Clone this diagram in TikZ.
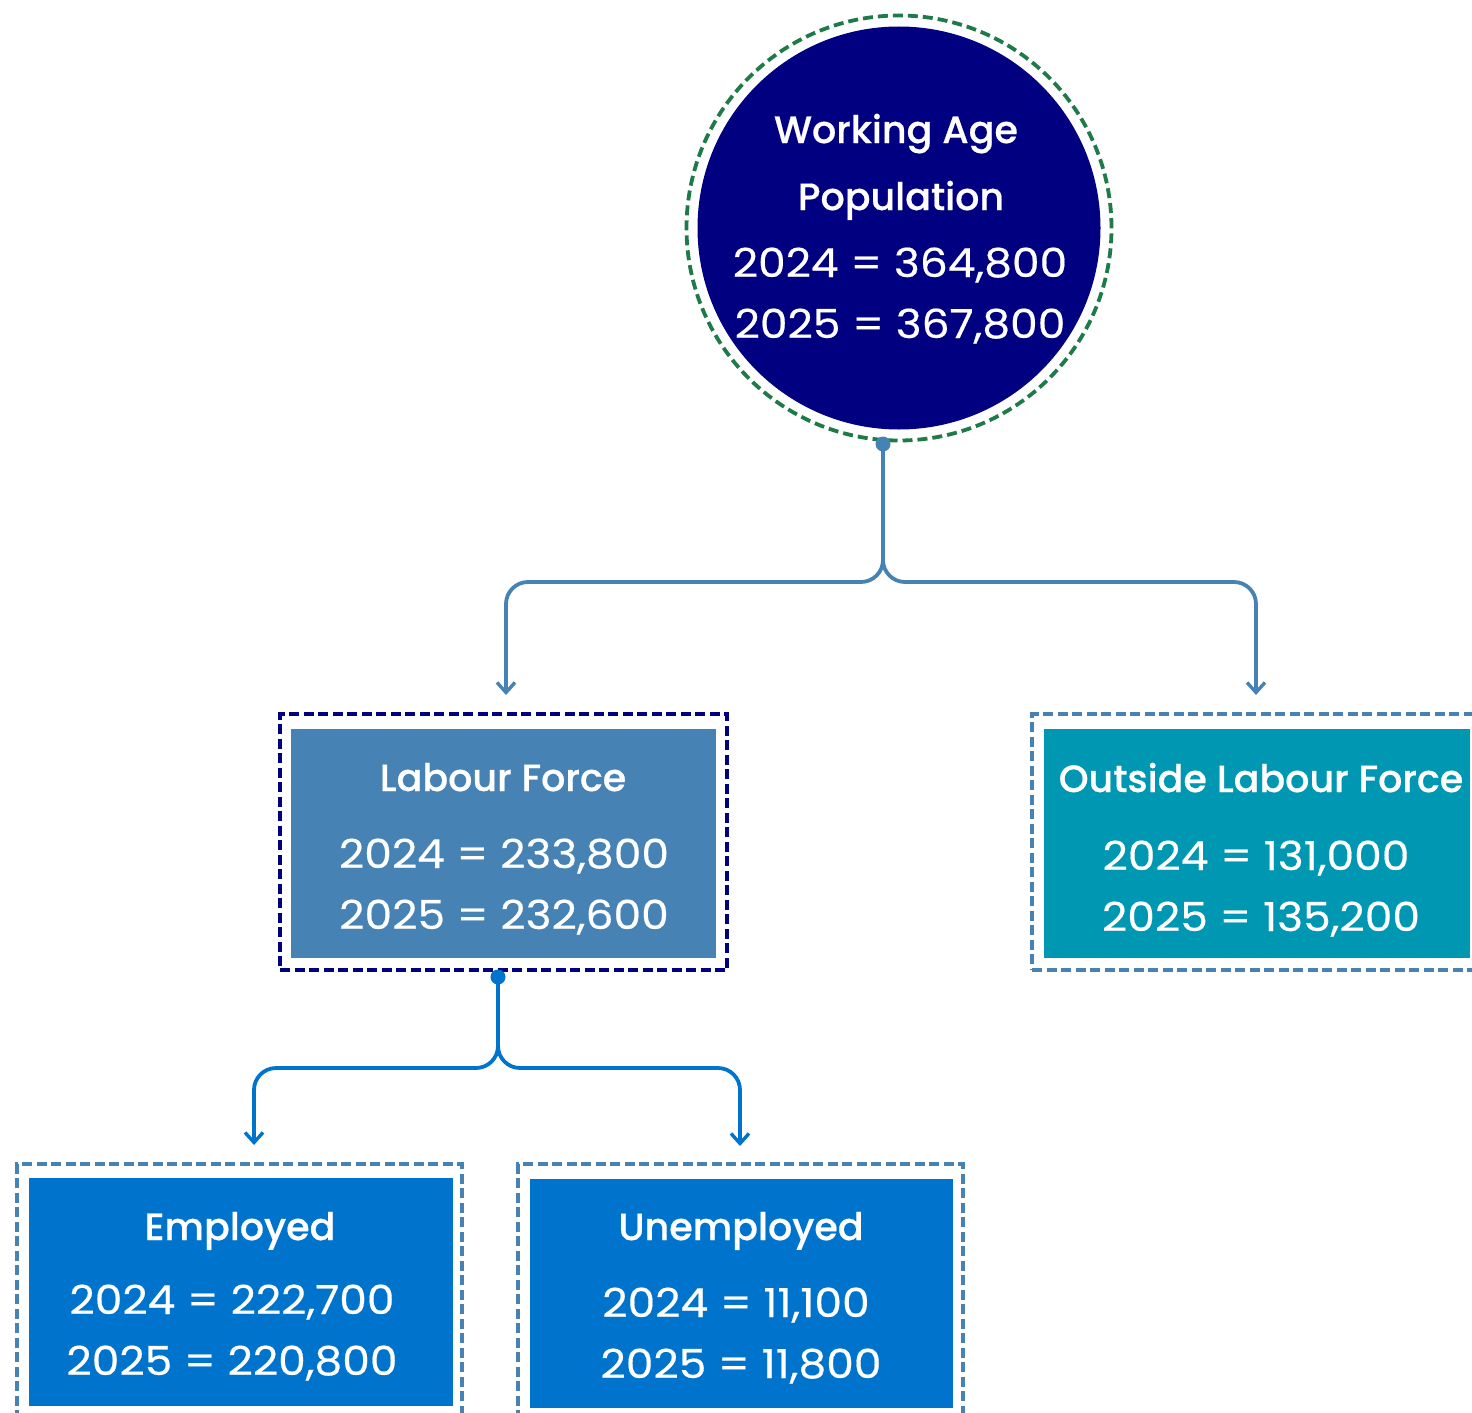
\documentclass[tikz,border=0pt]{standalone}
\usepackage{fontspec}
\setmainfont{Poppins}
\newfontfamily\titlefont{Poppins Medium}[FakeBold=0.5]
\newfontfamily\numfont[FakeBold=0.4,FakeStretch=1.1]{Poppins}
\usetikzlibrary{arrows.meta}
\definecolor{navyc}{HTML}{000080}
\definecolor{greenc}{HTML}{1F7A4A}
\definecolor{steelc}{HTML}{4682B4}
\definecolor{tealc}{HTML}{0097B2}
\definecolor{bluec}{HTML}{0074CC}
\tikzset{
  outerbox/.style={rectangle, draw, line width=4.2pt, dash pattern=on 10pt off 4.5pt, inner sep=0pt},
  innerbox/.style={rectangle, inner sep=0pt},
  ttl/.style={anchor=base, text=white, font=\titlefont\fontsize{38}{46}\selectfont, inner sep=0pt},
  num/.style={anchor=base, text=white, font=\numfont\fontsize{40}{48}\selectfont, inner sep=0pt},
  conn/.style={line width=3.8pt, rounded corners=22pt, -{Straight Barb[length=10pt,width=18pt,line width=3.4pt]}},
  dot/.style={circle, inner sep=0pt, minimum size=15pt}
}
\begin{document}
\begin{tikzpicture}[x=1pt,y=-1pt]
\useasboundingbox (0,0) rectangle (1472,1413);
\begin{scope}
\clip (0,0) rectangle (1472,1413);
% top circle
\node[circle, draw=greenc, line width=3.8pt, dash pattern=on 10pt off 5pt, minimum size=425pt, inner sep=0pt] (wapring) at (899,228) {};
\node[circle, fill=navyc, minimum size=403pt, inner sep=0pt] (wap) at (899,228) {};
\node[ttl] (t1) at (896,143) {Working Age};
\node[ttl] (t2) at (901,210) {Population};
\node[num] (t3) at (900,277) {2024 = 364,800};
\node[num] (t4) at (900,338) {2025 = 367,800};
% labour force
\node[outerbox, draw=navyc, minimum width=447pt, minimum height=256pt] (lfo) at (503.5,842) {};
\node[innerbox, fill=steelc, minimum width=425pt, minimum height=229pt] (lf) at (503.5,843.5) {};
\node[ttl] (l1) at (503,791) {Labour Force};
\node[num] (l2) at (504,868) {2024 = 233,800};
\node[num] (l3) at (504,929) {2025 = 232,600};
% outside labour force
\node[outerbox, draw=steelc, minimum width=448pt, minimum height=256pt] (olfo) at (1256,842) {};
\node[innerbox, fill=tealc, minimum width=426pt, minimum height=229pt] (olf) at (1257,843.5) {};
\node[ttl] (o1) at (1261,792) {Outside Labour Force};
\node[num] (o2) at (1256,870) {2024 = 131,000};
\node[num] (o3) at (1261,931) {2025 = 135,200};
% employed
\node[outerbox, draw=steelc, minimum width=445pt, minimum height=256pt] (empo) at (239.5,1292) {};
\node[innerbox, fill=bluec, minimum width=424pt, minimum height=228pt] (emp) at (241,1292) {};
\node[ttl] (e1) at (240,1240) {Employed};
\node[num] (e2) at (232,1314) {2024 = 222,700};
\node[num] (e3) at (232,1375) {2025 = 220,800};
% unemployed
\node[outerbox, draw=steelc, minimum width=445pt, minimum height=256pt] (unemo) at (740.5,1292) {};
\node[innerbox, fill=bluec, minimum width=423pt, minimum height=229pt] (unem) at (741.5,1293.5) {};
\node[ttl] (u1) at (741,1240) {Unemployed};
\node[num] (u2) at (736,1317) {2024 = 11,100};
\node[num] (u3) at (741,1378) {2025 = 11,800};
\end{scope}
% connectors
\node[dot, fill=steelc] (dA) at (883,444) {};
\coordinate (sA) at (883,582);
\coordinate (aLF) at (506,695);
\coordinate (aOLF) at (1256,695);
\draw[conn, draw=steelc] (dA.center) |- (aLF |- sA) -- (aLF);
\draw[conn, draw=steelc] (dA.center) |- (aOLF |- sA) -- (aOLF);
\node[dot, fill=bluec] (dB) at (498,977) {};
\coordinate (sB) at (498,1068);
\coordinate (aE) at (254,1145);
\coordinate (aU) at (740,1146);
\draw[conn, draw=bluec] (dB.center) |- (aE |- sB) -- (aE);
\draw[conn, draw=bluec] (dB.center) |- (aU |- sB) -- (aU);
\end{tikzpicture}
\end{document}
